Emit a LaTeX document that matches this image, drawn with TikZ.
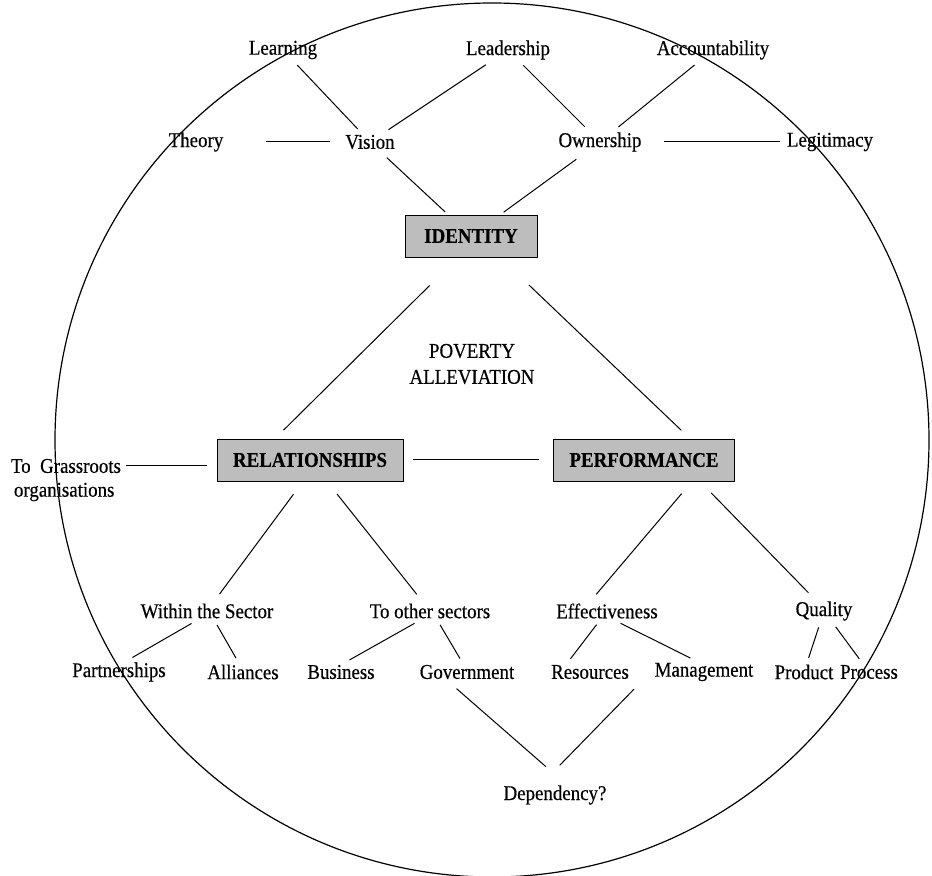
\documentclass[tikz,border=0pt]{standalone}
\usepackage{fontspec}
\setmainfont{Liberation Serif}[FakeStretch=0.9, FakeBold=0.4]
\usetikzlibrary{calc}

\tikzset{
  label/.style={font=\fontsize{10.5}{13}\selectfont, inner sep=1.5pt, outer sep=0pt},
  bigbox/.style={draw, fill=black!26, font=\fontsize{10.5}{13}\selectfont\bfseries, minimum height=21pt, inner xsep=8pt},
  link/.style={line width=0.5pt, shorten <=2pt, shorten >=2pt}
}

\begin{document}
\begin{tikzpicture}[x=0.5pt, y=-0.5pt]
\useasboundingbox (0,0) rectangle (932,876);
% outer circle
\draw[line width=0.6pt] (492,440) circle[radius=218.5pt];

% top rows
\node[label] (learning) at (283,50) {Learning};
\node[label] (leadership) at (508,50) {Leadership};
\node[label] (accountability) at (713,50) {Accountability};
\node[label] (theory) at (196,142) {Theory};
\node[label] (vision) at (370,142) {Vision};
\node[label] (ownership) at (600,142) {Ownership};
\node[label] (legitimacy) at (830,142) {Legitimacy};

% boxes
\node[bigbox, minimum width=66pt] (identity) at (471,236) {IDENTITY};
\node[label, align=center] (poverty) at (472,364) {POVERTY\\ALLEVIATION};
\node[bigbox, minimum width=93pt] (relationships) at (310,460) {RELATIONSHIPS};
\node[bigbox, minimum width=89pt] (performance) at (644,460) {PERFORMANCE};
\node[label, anchor=west] (grass) at (8,466) {To\ \ Grassroots};
\node[label, anchor=west] (orgs) at (11,492) {organisations};

% lower rows
\node[label] (within) at (207,611) {Within the Sector};
\node[label] (othersec) at (430,611) {To other sectors};
\node[label] (effect) at (607,611) {Effectiveness};
\node[label] (quality) at (824,611) {Quality};
\node[label] (partner) at (119,672) {Partnerships};
\node[label] (alliance) at (243,672) {Alliances};
\node[label] (business) at (341,672) {Business};
\node[label] (govt) at (467,672) {Government};
\node[label] (resource) at (590,672) {Resources};
\node[label] (manage) at (704,672) {Management};
\node[label] (product) at (804,672) {Product};
\node[label] (process) at (869,672) {Process};
\node[label] (depend) at (555,795) {Dependency?};

% connectors
\draw[link] (learning) -- (vision);
\draw[link] (leadership) -- (vision);
\draw[link] (leadership) -- (ownership);
\draw[link] (accountability) -- (ownership);
\draw[link, shorten <=20pt, shorten >=6pt] (theory) -- (vision);
\draw[link, shorten <=10pt, shorten >=2pt] (ownership) -- (legitimacy);
\draw[link, shorten <=4pt] (vision) -- (identity);
\draw[link, shorten <=4pt] (ownership) -- (identity);
\draw[link, shorten <=20pt, shorten >=6pt] ($(identity.south)+(-13,0)$) -- ($(relationships.north)+(-35,0)$);
\draw[link, shorten <=20pt, shorten >=6pt] ($(identity.south)+(29,0)$) -- ($(performance.north)+(46,0)$);
\draw[link, shorten <=5pt, shorten >=7pt] (relationships) -- (performance);
\draw[link, shorten <=1pt, shorten >=5pt] (grass) -- (grass -| relationships.west);
\draw[link, shorten <=8pt, shorten >=4pt] ($(relationships.south)+(-7,0)$) -- (within);
\draw[link, shorten <=8pt, shorten >=4pt] ($(relationships.south)+(17,0)$) -- (othersec);
\draw[link, shorten <=8pt, shorten >=4pt] ($(performance.south)+(48,0)$) -- ($(effect.north)+(-16,0)$);
\draw[link, shorten <=8pt, shorten >=4pt] ($(performance.south)+(56,0)$) -- ($(quality.north)+(-10,0)$);
\draw[link] ($(within.south)+(-12,0)$) -- ($(partner.north)+(10,0)$);
\draw[link] ($(within.south)+(8,0)$) -- ($(alliance.north)+(-5,0)$);
\draw[link] ($(othersec.south)+(-12,0)$) -- ($(business.north)+(5,0)$);
\draw[link] ($(othersec.south)+(8,0)$) -- ($(govt.north)+(-5,0)$);
\draw[link] ($(effect.south)+(-8,0)$) -- ($(resource.north)+(-22,0)$);
\draw[link] ($(effect.south)+(10,0)$) -- ($(manage.north)+(-10,0)$);
\draw[link] (quality) -- (product);
\draw[link] (quality) -- (process);
\draw[link, shorten <=5pt, shorten >=12pt] ($(govt.south)+(-18,0)$) -- ($(depend.north)+(9,0)$);
\draw[link, shorten <=5pt, shorten >=12pt] ($(resource.south)+(51,0)$) -- ($(depend.north)+(-12,0)$);
\end{tikzpicture}
\end{document}
